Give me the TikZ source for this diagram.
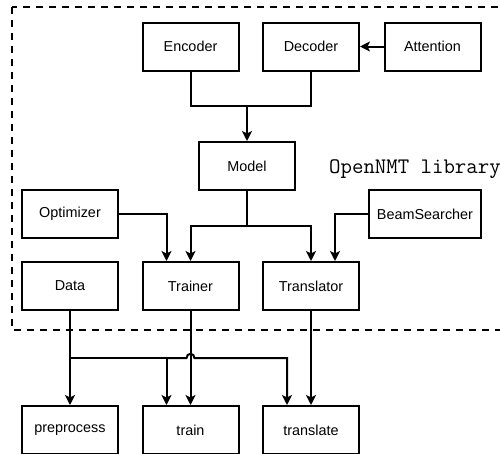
\documentclass[tikz,border=0pt]{standalone}
\usepackage{fontspec}
\setmainfont{Liberation Sans}
\usetikzlibrary{arrows.meta,calc}
\begin{document}
\begin{tikzpicture}[x=1pt,y=-1pt,
  box/.style={draw, line width=2pt, minimum width=96pt, minimum height=48pt, inner sep=0pt, font=\fontsize{14.4}{16}\selectfont},
  conn/.style={line width=2pt},
  arr/.style={conn, -{Stealth[length=10pt,width=10pt,inset=2.5pt]}},
  dashbox/.style={line width=2pt, dash pattern=on 7pt off 6pt}]
\useasboundingbox (0,0) rectangle (500,453);
\draw[dashbox] (12,7) rectangle (530,330);
\node[box] (enc) at (190.5,46.5) {Encoder};
\node[box] (dec) at (311,46.5) {Decoder};
\node[box] (att) at (432.5,46.5) {Attention};
\node[box] (model) at (247,166) {Model};
\node[box] (opt) at (70,214) {Optimizer};
\node[box, minimum width=112pt] (beam) at (425,214) {BeamSearcher};
\node[box] (data) at (70,286) {Data};
\node[box] (trainer) at (190.5,286) {Trainer};
\node[box] (transl) at (311,286) {Translator};
\node[box] (pre) at (70,430) {preprocess};
\node[box] (train) at (190.5,430) {train};
\node[box] (translate) at (311,430) {translate};
\node[anchor=base west, inner sep=0pt, font=\ttfamily\fontsize{22.2}{25}\selectfont] (lib) at (329,173) {OpenNMT library};
% coordinates
\coordinate (m1) at (247,106);
\coordinate (m2) at (247,226);
\coordinate (j) at (70,358);
% encoder/decoder -> model
\draw[arr] (enc.south) -- (enc.south |- m1) -- (m1) -- (model.north);
\draw[conn] (dec.south) -- (dec.south |- m1) -- (m1);
\draw[arr] (att.west) -- (dec.east);
% model -> trainer / translator
\draw[arr] (model.south) -- (m2) -- (trainer.north |- m2) -- (trainer.north);
\draw[arr] (m2) -- (transl.north |- m2) -- (transl.north);
% optimizer -> trainer
\coordinate (ot) at ($(trainer.north)+(-24,0)$);
\draw[arr] (opt.east) -- (opt.east -| ot) -- (ot);
% beamsearcher -> translator
\coordinate (bt) at ($(transl.north)+(24,0)$);
\draw[arr] (beam.west) -- (beam.west -| bt) -- (bt);
% data -> preprocess, train, translate
\draw[arr] (data.south) -- (pre.north);
\coordinate (tr1) at ($(train.north)+(-24,0)$);
\coordinate (tl1) at ($(translate.north)+(-24,0)$);
\draw[arr] (j) -- (j -| tr1) -- (tr1);
\draw[arr] (j -| tr1) -- ($(j -| trainer.south)+(-4,0)$) .. controls +(0,-5.5) and +(0,-5.5) .. ($(j -| trainer.south)+(4,0)$) -- (j -| tl1) -- (tl1);
% trainer -> train, translator -> translate
\draw[arr] (trainer.south) -- (train.north);
\draw[arr] (transl.south) -- (translate.north);
\end{tikzpicture}
\end{document}
